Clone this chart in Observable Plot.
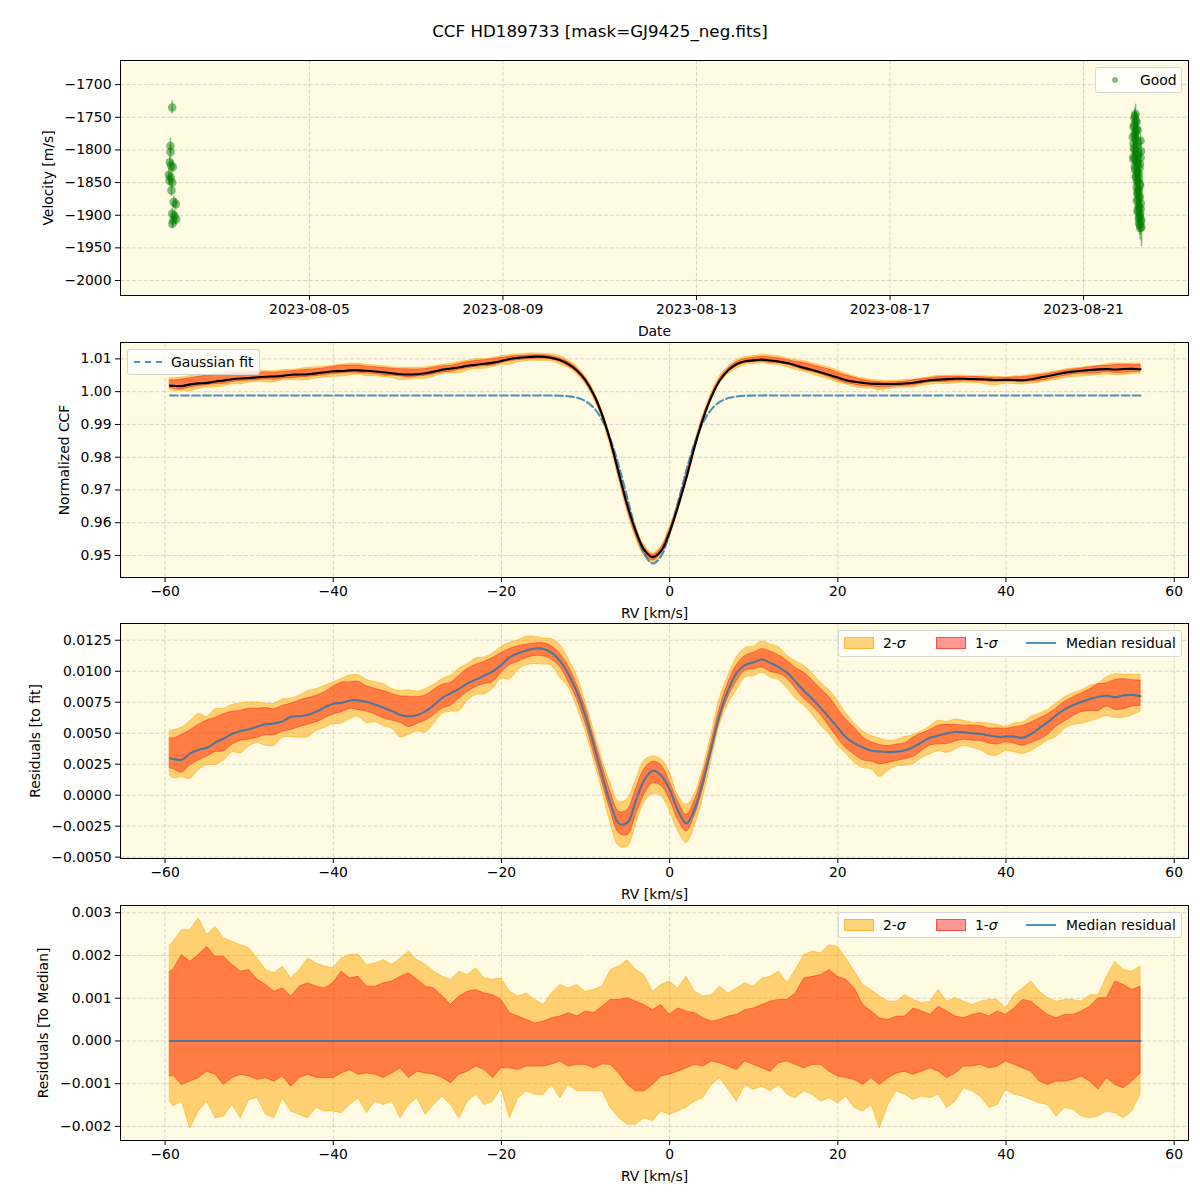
<!DOCTYPE html>
<html><head><meta charset="utf-8">
<script src="https://cdn.jsdelivr.net/npm/d3@7"></script>
<script src="https://cdn.jsdelivr.net/npm/@observablehq/plot@0.6"></script>
<style>
body{margin:0;background:#fff;font-family:"DejaVu Sans",sans-serif;color:#000;}
#root{position:relative;width:1200px;height:1200px;overflow:hidden;}
.panel{position:absolute;left:0;}
.title{position:absolute;left:0;width:1200px;top:21px;text-align:center;font-size:16.7px;line-height:20px;}
.legend{position:absolute;background:rgba(255,255,255,0.8);border:1px solid #d6d6d6;border-radius:3px;box-sizing:border-box;font-size:13.9px;}
.legend span{position:absolute;top:3px;line-height:18px;white-space:nowrap;}
.legend .sw{position:absolute;}
</style></head>
<body><div id="root"></div>
<script>
// ---------- Panel 1: velocity time series ----------
const obsTime = [
 "2023-08-02T02:14Z","2023-08-02T02:35Z","2023-08-02T02:44Z","2023-08-02T03:04Z","2023-08-02T03:06Z","2023-08-02T03:08Z",
 "2023-08-02T03:25Z","2023-08-02T03:34Z","2023-08-02T03:55Z","2023-08-02T03:57Z","2023-08-02T03:59Z","2023-08-02T04:01Z",
 "2023-08-02T04:13Z","2023-08-02T04:25Z","2023-08-02T04:42Z","2023-08-02T05:02Z","2023-08-02T05:42Z","2023-08-02T05:54Z",
 "2023-08-22T01:48Z","2023-08-22T01:20Z","2023-08-22T02:15Z","2023-08-22T00:50Z","2023-08-22T02:45Z","2023-08-22T01:22Z",
 "2023-08-22T01:50Z","2023-08-22T04:15Z","2023-08-22T00:52Z","2023-08-22T02:19Z","2023-08-22T01:24Z","2023-08-22T03:15Z",
 "2023-08-22T00:54Z","2023-08-22T04:18Z","2023-08-22T01:52Z","2023-08-22T02:49Z","2023-08-22T01:26Z","2023-08-22T03:45Z",
 "2023-08-22T02:21Z","2023-08-22T03:19Z","2023-08-22T01:54Z","2023-08-22T02:51Z","2023-08-22T03:49Z","2023-08-22T02:23Z",
 "2023-08-22T03:21Z","2023-08-22T02:53Z","2023-08-22T03:51Z","2023-08-22T02:25Z","2023-08-22T03:23Z","2023-08-22T04:20Z",
 "2023-08-22T02:55Z","2023-08-22T03:53Z","2023-08-22T03:25Z","2023-08-22T04:22Z","2023-08-22T03:55Z","2023-08-22T04:46Z",
 "2023-08-22T01:30Z","2023-08-22T02:00Z","2023-08-22T01:10Z","2023-08-22T02:30Z","2023-08-22T01:40Z","2023-08-22T00:30Z",
 "2023-08-22T03:00Z","2023-08-22T01:00Z","2023-08-22T04:30Z","2023-08-22T02:05Z","2023-08-22T00:40Z","2023-08-22T02:40Z",
 "2023-08-22T04:00Z","2023-08-22T01:35Z","2023-08-22T03:05Z","2023-08-22T02:10Z","2023-08-22T03:35Z","2023-08-22T02:35Z",
 "2023-08-22T04:05Z","2023-08-22T03:10Z","2023-08-22T02:42Z","2023-08-22T03:40Z","2023-08-22T03:02Z","2023-08-22T04:25Z",
 "2023-08-22T03:30Z","2023-08-22T02:50Z","2023-08-22T04:02Z","2023-08-22T03:45Z","2023-08-22T04:40Z","2023-08-22T03:32Z",
 "2023-08-22T04:10Z"
];
const obsRv = [
 -1838,-1847,-1819,-1794,-1803,-1842,-1824,-1862,-1735,-1850,-1898,-1913,-1826,-1908,-1880,-1901,-1883,-1906,
 -1745,-1752,-1758,-1765,-1770,-1777,-1783,-1786,-1790,-1795,-1800,-1805,-1810,-1812,-1816,-1820,-1825,-1828,
 -1833,-1838,-1842,-1847,-1852,-1857,-1862,-1868,-1873,-1878,-1885,-1890,-1895,-1900,-1905,-1910,-1915,-1918,
 -1748,-1755,-1762,-1768,-1773,-1780,-1788,-1797,-1802,-1807,-1814,-1818,
 -1822,-1830,-1835,-1840,-1845,-1850,-1855,-1860,-1865,-1870,-1876,-1882,
 -1888,-1892,-1897,-1903,-1907,-1912,-1920
];
const obsErr = [
 9,8,9,12,10,9,9,9,10,9,9,8,9,9,9,9,9,9,
 15,12,12,12,12,12,12,12,12,12,12,12,12,12,12,12,12,12,
 12,12,12,12,12,12,12,12,12,12,12,12,12,12,12,14,16,30,
 12,12,12,12,12,12,12,12,12,12,12,12,
 12,12,12,12,12,12,12,12,12,12,12,12,
 12,12,12,12,12,14,18
];
const dateTicks = ["2023-08-05","2023-08-09","2023-08-13","2023-08-17","2023-08-21"];
const velTicks = [-2000,-1950,-1900,-1850,-1800,-1750,-1700];

// ---------- CCF panels: RV grid ----------
const rv = [-59.4,-59,-58,-57,-56,-55,-54,-53,-52,-51,-50,-49,-48,-47,-46,-45,-44,-43,-42,-41,-40,
 -39,-38,-37,-36,-35,-34,-33,-32,-31,-30,-29,-28,-27,-26,-25,-24,-23,-22,-21,-20,
 -19,-18,-17,-16,-15,-14,-13,-12,-11,-10,-9,-8,-7,-6,-5,-4,-3,-2,-1,0,
 1,2,3,4,5,6,7,8,9,10,11,12,13,14,15,16,17,18,19,20,
 21,22,23,24,25,26,27,28,29,30,31,32,33,34,35,36,37,38,39,40,
 41,42,43,44,45,46,47,48,49,50,51,52,53,54,55,56];

// Gaussian fit curve (normalized CCF) at each RV
const gaussFit = [0.99885,0.99885,0.99885,0.99885,0.99885,0.99885,0.99885,0.99885,0.99885,0.99885,0.99885,
 0.99885,0.99885,0.99885,0.99885,0.99885,0.99885,0.99885,0.99885,0.99885,0.99885,
 0.99885,0.99885,0.99885,0.99885,0.99885,0.99885,0.99885,0.99885,0.99885,0.99885,
 0.99885,0.99885,0.99885,0.99885,0.99885,0.99885,0.99885,0.99885,0.99885,0.99885,
 0.99885,0.99885,0.99885,0.99885,0.99885,0.99882,0.99876,0.99858,0.99813,0.99709,
 0.99499,0.99121,0.98524,0.97699,0.96725,0.95763,0.95041,0.94755,0.94990,0.95676,
 0.96623,0.97607,0.98451,0.99072,0.99469,0.99694,0.99805,0.99855,0.99875,0.99881,
 0.99885,0.99885,0.99885,0.99885,0.99885,0.99885,0.99885,0.99885,0.99885,0.99885,
 0.99885,0.99885,0.99885,0.99885,0.99885,0.99885,0.99885,0.99885,0.99885,0.99885,
 0.99885,0.99885,0.99885,0.99885,0.99885,0.99885,0.99885,0.99885,0.99885,0.99885,
 0.99885,0.99885,0.99885,0.99885,0.99885,0.99885,0.99885,0.99885,0.99885,0.99885,
 0.99885,0.99885,0.99885,0.99885,0.99885,0.99885];

// Median residual to fit (units of 1e-3)
const medianResidMilli = [2.98,2.91,2.86,3.37,3.67,3.83,4.26,4.57,4.95,5.18,5.31,
 5.54,5.72,5.79,5.97,6.33,6.37,6.48,6.74,7.08,7.38,
 7.45,7.64,7.65,7.51,7.30,7.05,6.78,6.47,6.37,6.47,
 6.78,7.28,7.87,8.23,8.60,9.04,9.34,9.65,10.01,10.51,
 11.14,11.45,11.67,11.83,11.80,11.48,10.80,9.72,8.27,6.34,
 3.99,1.54,-0.75,-2.32,-2.20,-0.42,1.24,1.97,1.58,0.46,
 -1.25,-2.28,-1.07,1.20,3.90,6.61,8.54,9.89,10.51,10.73,
 10.94,10.66,10.31,9.87,9.13,8.41,7.73,7.02,6.24,5.44,
 4.65,4.18,3.84,3.58,3.52,3.47,3.51,3.62,3.89,4.28,
 4.65,4.81,4.99,5.10,5.08,5.00,4.93,4.81,4.70,4.74,
 4.72,4.63,4.94,5.43,5.91,6.47,6.92,7.27,7.53,7.75,
 7.94,8.02,7.91,8.05,8.09,7.98];

// Residual spread relative to the median (units of 1e-3)
const sig2HiMilli = [2.24,2.32,2.59,2.59,2.87,2.48,2.67,2.40,2.32,2.24,2.17,
 1.93,1.66,1.58,1.74,1.46,1.66,1.93,1.81,1.74,1.70,
 1.93,2.01,2.02,1.78,1.81,1.89,1.78,1.93,2.09,1.89,
 1.78,1.62,1.50,1.43,1.62,1.54,1.70,1.46,1.43,1.46,
 1.15,1.04,1.11,0.96,0.84,1.11,1.31,1.23,1.31,1.15,
 1.19,1.27,1.66,1.74,1.89,1.66,1.54,1.15,1.31,1.39,
 1.23,1.50,1.15,1.04,1.07,1.27,1.11,1.23,1.35,1.27,
 1.46,1.50,1.62,1.35,1.66,2.01,2.09,2.05,2.24,2.20,
 1.93,1.62,1.31,1.19,1.04,0.92,0.92,1.07,0.96,0.88,
 0.92,1.19,0.92,1.00,0.92,0.84,0.92,0.96,0.96,0.76,
 1.07,1.23,1.39,1.15,1.00,0.92,0.96,0.96,0.92,1.07,
 1.07,1.50,1.85,1.66,1.62,1.74];
const sig1HiMilli = [1.62,1.66,2.01,1.85,2.01,2.20,1.97,1.97,1.78,1.62,1.66,
 1.43,1.31,1.15,1.23,1.04,1.27,1.35,1.27,1.23,1.35,
 1.62,1.46,1.50,1.27,1.27,1.35,1.39,1.50,1.58,1.43,
 1.27,1.23,1.04,0.84,1.04,1.15,1.19,1.11,1.07,0.96,
 0.65,0.57,0.49,0.41,0.45,0.53,0.57,0.65,0.57,0.69,
 0.65,0.80,0.96,0.96,1.00,0.92,0.84,0.72,0.84,0.61,
 0.76,0.69,0.65,0.53,0.45,0.49,0.57,0.61,0.72,0.76,
 0.84,0.92,0.96,0.96,1.11,1.46,1.50,1.54,1.66,1.50,
 1.43,1.23,0.84,0.69,0.53,0.49,0.57,0.57,0.76,0.69,
 0.61,0.80,0.69,0.57,0.53,0.61,0.65,0.57,0.69,0.61,
 0.76,0.96,0.92,0.76,0.61,0.53,0.61,0.61,0.69,0.80,
 1.00,1.00,1.39,1.31,1.19,1.27];
const sig1LoMilli = [-0.83,-0.81,-1.03,-0.95,-0.87,-0.72,-0.79,-1.03,-0.87,-0.79,-0.83,
 -0.91,-0.87,-0.95,-0.83,-1.07,-0.87,-0.79,-0.86,-0.87,-0.87,
 -0.76,-0.68,-0.79,-0.76,-0.79,-0.87,-0.76,-0.64,-0.87,-0.72,
 -0.76,-0.79,-0.87,-0.99,-0.79,-0.72,-0.60,-0.68,-0.87,-0.64,
 -0.64,-0.68,-0.60,-0.60,-0.60,-0.55,-0.48,-0.60,-0.56,-0.56,
 -0.64,-0.55,-0.56,-0.76,-1.03,-1.18,-1.18,-1.03,-0.83,-0.79,
 -0.72,-0.64,-0.56,-0.60,-0.48,-0.52,-0.60,-0.68,-0.48,-0.56,
 -0.64,-0.72,-0.52,-0.48,-0.56,-0.64,-0.56,-0.56,-0.72,-0.83,
 -0.87,-0.91,-1.03,-0.87,-1.03,-0.87,-0.76,-0.72,-0.79,-0.72,
 -0.64,-0.72,-0.87,-0.76,-0.60,-0.60,-0.56,-0.64,-0.60,-0.48,
 -0.56,-0.64,-0.72,-0.95,-1.03,-0.95,-0.95,-0.91,-0.83,-0.95,
 -1.14,-0.87,-1.03,-1.11,-0.95,-0.76];
const sig2LoMilli = [-1.42,-1.53,-1.42,-2.05,-1.65,-1.42,-1.81,-1.77,-1.50,-1.81,-1.38,
 -1.34,-1.73,-1.81,-1.34,-1.65,-1.73,-1.81,-1.57,-1.65,-1.65,
 -1.69,-1.50,-1.34,-1.69,-1.42,-1.50,-1.42,-1.81,-1.50,-1.34,
 -1.73,-1.50,-1.30,-1.50,-1.81,-1.42,-1.26,-1.50,-1.42,-1.11,
 -1.81,-1.34,-1.18,-1.26,-1.26,-1.03,-1.34,-1.03,-1.18,-1.18,
 -1.18,-1.18,-1.57,-1.81,-1.96,-1.96,-1.81,-1.88,-1.65,-1.73,
 -1.65,-1.57,-1.42,-1.34,-1.03,-0.87,-1.14,-1.42,-1.03,-1.14,
 -1.07,-1.18,-1.03,-1.26,-1.34,-1.18,-1.26,-1.42,-1.34,-1.46,
 -1.30,-1.57,-1.65,-1.50,-2.05,-1.50,-1.18,-1.26,-1.38,-1.30,
 -1.34,-1.26,-1.57,-1.42,-1.11,-1.18,-1.30,-1.57,-1.50,-1.14,
 -1.26,-1.30,-1.38,-1.46,-1.50,-1.77,-1.57,-1.61,-1.77,-1.81,
 -1.77,-1.65,-1.69,-1.81,-1.65,-1.26];

const rvTicks = [-60,-40,-20,0,20,40,60];
const ccfTicks = [0.95,0.96,0.97,0.98,0.99,1.00,1.01];
const residTicks = [-0.005,-0.0025,0,0.0025,0.005,0.0075,0.01,0.0125];
const medTicks = [-0.002,-0.001,0,0.001,0.002,0.003];

// ---------- derived tables ----------
const pts = obsTime.map((t,i)=>({t:new Date(t), v:obsRv[i], e:obsErr[i]}));
const rows = rv.map((x,i)=>{
  const m = medianResidMilli[i]/1000;
  const d2h = sig2HiMilli[i]/1000, d1h = sig1HiMilli[i]/1000, d1l = sig1LoMilli[i]/1000, d2l = sig2LoMilli[i]/1000;
  const f = gaussFit[i];
  return {rv:x, fit:f, med:m, d2h, d1h, d1l, d2l,
    r2h:m+d2h, r1h:m+d1h, r1l:m+d1l, r2l:m+d2l,
    c:f+m, c2h:f+m+d2h, c1h:f+m+d1h, c1l:f+m+d1l, c2l:f+m+d2l};
});

// ---------- styling ----------
const BG = "#fefbe2";
const GRID = {stroke:"#b8b8b8", strokeOpacity:0.7, strokeDasharray:"4.1,1.8", strokeWidth:0.8};
const FONT = {fontFamily:"DejaVu Sans", fontSize:"13.9px", color:"#000", background:"transparent", overflow:"visible"};
const W = 1200, ML = 120, MR = 12, FH = 235;
const RVDOM = [-65.3, 61.7];
const root = document.getElementById("root");

function place(svg, top){ svg.classList.add("panel"); svg.style.top = top+"px"; root.appendChild(svg); }

function bands(data, lo2, hi2, lo1, hi1, curve){
  return [
    Plot.areaY(data,{x:"rv", y1:lo2, y2:hi2, fill:"orange", fillOpacity:0.5, stroke:"orange", strokeOpacity:0.5, strokeWidth:1, curve}),
    Plot.areaY(data,{x:"rv", y1:lo1, y2:hi1, fill:"red", fillOpacity:0.4, stroke:"red", strokeOpacity:0.4, strokeWidth:1, curve})
  ];
}
function axes(xOpts, yOpts){
  return [
    Plot.axisX({tickSize:5, tickPadding:4, labelAnchor:"center", labelArrow:"none", ...xOpts}),
    Plot.axisY({tickSize:5, tickPadding:4, labelAnchor:"center", labelArrow:"none", ...yOpts})
  ];
}

// Panel 1
const p1 = Plot.plot({
  width:W, height:1+FH+46, marginTop:1, marginBottom:46, marginLeft:ML, marginRight:MR, style:FONT,
  x:{type:"utc", domain:[new Date("2023-08-01T02:17Z"), new Date("2023-08-23T04:04Z")]},
  y:{domain:[-2023,-1663]},
  marks:[
    Plot.frame({fill:BG, stroke:null}),
    Plot.gridX(dateTicks.map(d=>new Date(d)), GRID),
    Plot.gridY(velTicks, GRID),
    Plot.ruleX(pts,{x:"t", y1:d=>d.v-d.e, y2:d=>d.v+d.e, stroke:"green", strokeOpacity:0.5, strokeWidth:1.5}),
    Plot.dot(pts,{x:"t", y:"v", r:4.3, fill:"green", fillOpacity:0.5, stroke:null}),
    Plot.frame({stroke:"#000", strokeWidth:1}),
    ...axes({ticks:dateTicks.map(d=>new Date(d)), tickFormat:d3.utcFormat("%Y-%m-%d"), label:"Date", labelOffset:40},
            {ticks:velTicks, tickFormat:d3.format("d"), label:"Velocity [m/s]", labelOffset:77})
  ]
});
place(p1, 59);

// Panel 2
const p2 = Plot.plot({
  width:W, height:1+FH+45, marginTop:1, marginBottom:45, marginLeft:ML, marginRight:MR, style:FONT,
  x:{domain:RVDOM}, y:{domain:[0.9433,1.0150]},
  marks:[
    Plot.frame({fill:BG, stroke:null}),
    Plot.gridX(rvTicks, GRID), Plot.gridY(ccfTicks, GRID),
    ...bands(rows,"c2l","c2h","c1l","c1h","catmull-rom"),
    Plot.lineY(rows,{x:"rv", y:"fit", stroke:"#1f77b4", strokeOpacity:0.8, strokeWidth:2.1, strokeDasharray:"7.7,3.3", curve:"catmull-rom"}),
    Plot.lineY(rows,{x:"rv", y:"c", stroke:"#000", strokeWidth:2.1, curve:"catmull-rom"}),
    Plot.frame({stroke:"#000", strokeWidth:1}),
    ...axes({ticks:rvTicks, tickFormat:d3.format("d"), label:"RV [km/s]", labelOffset:40},
            {ticks:ccfTicks, tickFormat:d3.format(".2f"), label:"Normalized CCF", labelOffset:61})
  ]
});
place(p2, 341);

// Panel 3
const p3 = Plot.plot({
  width:W, height:1+FH+46, marginTop:1, marginBottom:46, marginLeft:ML, marginRight:MR, style:FONT,
  x:{domain:RVDOM}, y:{domain:[-0.00511,0.01385]},
  marks:[
    Plot.frame({fill:BG, stroke:null}),
    Plot.gridX(rvTicks, GRID), Plot.gridY(residTicks, GRID),
    ...bands(rows,"r2l","r2h","r1l","r1h","catmull-rom"),
    Plot.lineY(rows,{x:"rv", y:"med", stroke:"#1f77b4", strokeOpacity:0.8, strokeWidth:2.1, curve:"catmull-rom"}),
    Plot.frame({stroke:"#000", strokeWidth:1}),
    ...axes({ticks:rvTicks, tickFormat:d3.format("d"), label:"RV [km/s]", labelOffset:40},
            {ticks:residTicks, tickFormat:d3.format(".4f"), label:"Residuals [to fit]", labelOffset:90})
  ]
});
place(p3, 622);

// Panel 4
const zeroLine = rows.map(r=>({rv:r.rv, z:r.med-r.med}));
const p4 = Plot.plot({
  width:W, height:1+FH+46, marginTop:1, marginBottom:46, marginLeft:ML, marginRight:MR, style:FONT,
  x:{domain:RVDOM}, y:{domain:[-0.00233,0.00317]},
  marks:[
    Plot.frame({fill:BG, stroke:null}),
    Plot.gridX(rvTicks, GRID), Plot.gridY(medTicks, GRID),
    ...bands(rows,"d2l","d2h","d1l","d1h","linear"),
    Plot.lineY(zeroLine,{x:"rv", y:"z", stroke:"#1f77b4", strokeOpacity:0.8, strokeWidth:2.1}),
    Plot.frame({stroke:"#000", strokeWidth:1}),
    ...axes({ticks:rvTicks, tickFormat:d3.format("d"), label:"RV [km/s]", labelOffset:40},
            {ticks:medTicks, tickFormat:d3.format(".3f"), label:"Residuals [To Median]", labelOffset:82})
  ]
});
place(p4, 904);

// ---------- title and legends ----------
function el(tag, cls, html, css){ const e=document.createElement(tag); if(cls) e.className=cls; if(html!=null) e.innerHTML=html; Object.assign(e.style, css||{}); return e; }
root.appendChild(el("div","title","CCF HD189733 [mask=GJ9425_neg.fits]"));

function legend(box, items){
  const L = el("div","legend",null,{left:box[0]+"px", top:box[1]+"px", width:box[2]+"px", height:box[3]+"px"});
  for(const it of items) L.appendChild(it);
  root.appendChild(L);
}
const lg1 = [
  el("div","sw",null,{left:"16px", top:"9px", width:"6px", height:"6px", borderRadius:"50%", background:"rgba(0,128,0,0.5)"}),
  el("span",null,"Good",{left:"44px"})
];
legend([1095,67,87,26], lg1);

const lg2 = [
  el("div","sw",null,{left:"6px", top:"11px", width:"28px", height:"0px", borderTop:"2px dashed rgba(31,119,180,0.8)"}),
  el("span",null,"Gaussian fit",{left:"43px"})
];
legend([127,349,133,26], lg2);

function sigLegend(top){
  return [
    el("div","sw",null,{left:"5px", top:"6px", width:"28px", height:"10px", background:"rgba(255,165,0,0.5)", border:"1px solid rgba(255,165,0,0.6)"}),
    el("span",null,"2-<i>σ</i>",{left:"44px"}),
    el("div","sw",null,{left:"97px", top:"6px", width:"28px", height:"10px", background:"rgba(255,0,0,0.4)", border:"1px solid rgba(255,0,0,0.5)"}),
    el("span",null,"1-<i>σ</i>",{left:"136px"}),
    el("div","sw",null,{left:"187px", top:"11px", width:"30px", height:"2px", background:"rgba(31,119,180,0.8)"}),
    el("span",null,"Median residual",{left:"227px"})
  ];
}
legend([838,630,344,27], sigLegend());
legend([838,912,344,26], sigLegend());
</script>
</body></html>
